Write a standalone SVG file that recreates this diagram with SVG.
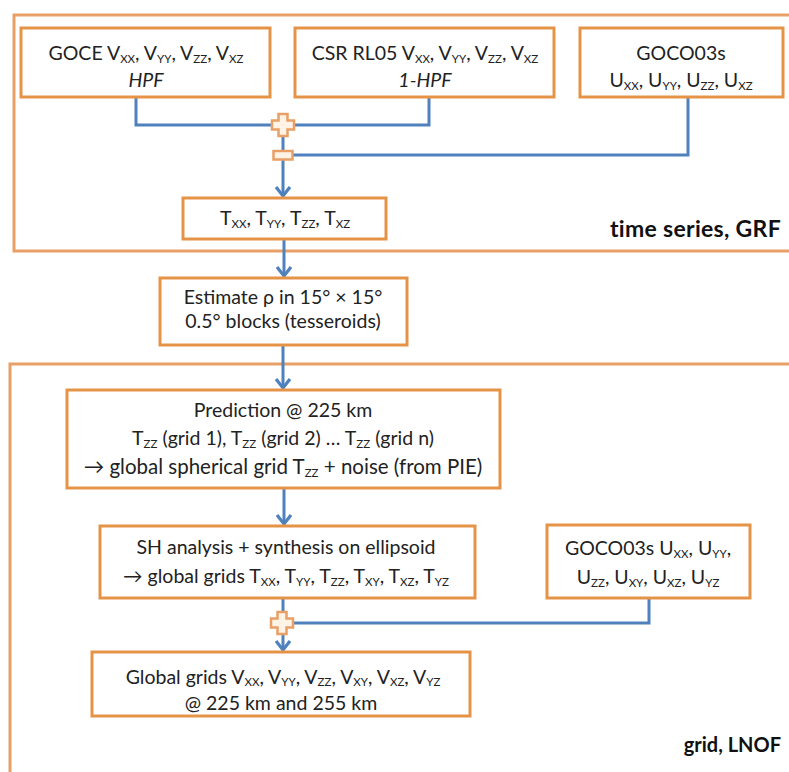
<svg xmlns="http://www.w3.org/2000/svg" width="789" height="772" viewBox="0 0 789 772">
<style>
.frame{fill:none;stroke:#E9A066;stroke-width:3}
.box{fill:#fff;stroke:#E59447;stroke-width:3}
.con{fill:none;stroke:#4F81BD;stroke-width:3}
.op{fill:#FFF3E6;stroke:#E9A066;stroke-width:2.5}
text{font-family:Lato,"Open Sans","Liberation Sans",sans-serif;font-size:19.5px;fill:#222;text-anchor:middle}
.it{font-style:italic}
.lab{font-weight:bold;font-size:20px;text-anchor:end;fill:#111}
.big{font-size:23px;letter-spacing:0.3px}
.s{font-size:11.5px}
</style>
<defs>
<marker id="ah" markerUnits="userSpaceOnUse" markerWidth="18" markerHeight="18" refX="11" refY="9" orient="auto">
<path d="M2,2 L11,9 L2,16" fill="none" stroke="#4F81BD" stroke-width="3.2"/>
</marker>
</defs>
<rect class="frame" x="14" y="15" width="800" height="236"/>
<rect class="frame" x="10" y="364" width="800" height="430"/>
<text class="lab big" x="781" y="237">time series, GRF</text>
<text class="lab" x="781" y="752">grid, LNOF</text>
<g id="connectors">
<path class="con" d="M136,97 V125 H429 V97"/>
<path class="con" d="M283,125 V155 H688 V97"/>
<path class="con" d="M283,155 V196" marker-end="url(#ah)"/>
<path class="con" d="M284,239 V276" marker-end="url(#ah)"/>
<path class="con" d="M283,345 V388" marker-end="url(#ah)"/>
<path class="con" d="M284,488 V524" marker-end="url(#ah)"/>
<path class="con" d="M283,598 V623 H649 V598"/>
<path class="con" d="M283,623 V650" marker-end="url(#ah)"/>
<path id="plus1" class="op" d="M278.5,114 h9 v6.5 h6.5 v9 h-6.5 v6.5 h-9 v-6.5 h-6.5 v-9 h6.5 z"/>
<rect id="minus1" class="op" x="273.5" y="151" width="19" height="8.5"/>
<path id="plus2" class="op" d="M277.5,612 h9 v6.5 h6.5 v9 h-6.5 v6.5 h-9 v-6.5 h-6.5 v-9 h6.5 z"/>
</g>
<g id="goce">
<rect class="box" x="21" y="28" width="249" height="69"/>
<text x="146" y="60">GOCE V<tspan class="s" dy="3">XX</tspan><tspan dy="-3">, V</tspan><tspan class="s" dy="3">YY</tspan><tspan dy="-3">, V</tspan><tspan class="s" dy="3">ZZ</tspan><tspan dy="-3">, V</tspan><tspan class="s" dy="3">XZ</tspan></text>
<text class="it" x="146" y="87">HPF</text>
</g>
<g id="csr">
<rect class="box" x="295" y="28" width="259" height="69"/>
<text x="425" y="60">CSR RL05 V<tspan class="s" dy="3">XX</tspan><tspan dy="-3">, V</tspan><tspan class="s" dy="3">YY</tspan><tspan dy="-3">, V</tspan><tspan class="s" dy="3">ZZ</tspan><tspan dy="-3">, V</tspan><tspan class="s" dy="3">XZ</tspan></text>
<text class="it" x="425" y="87">1-HPF</text>
</g>
<g id="goco1">
<rect class="box" x="580" y="28" width="203" height="69"/>
<text x="681" y="60">GOCO03s</text>
<text x="681" y="87">U<tspan class="s" dy="3">XX</tspan><tspan dy="-3">, U</tspan><tspan class="s" dy="3">YY</tspan><tspan dy="-3">, U</tspan><tspan class="s" dy="3">ZZ</tspan><tspan dy="-3">, U</tspan><tspan class="s" dy="3">XZ</tspan></text>
</g>
<g id="tbox">
<rect class="box" x="183" y="198" width="203" height="41"/>
<text x="285" y="225">T<tspan class="s" dy="3">XX</tspan><tspan dy="-3">, T</tspan><tspan class="s" dy="3">YY</tspan><tspan dy="-3">, T</tspan><tspan class="s" dy="3">ZZ</tspan><tspan dy="-3">, T</tspan><tspan class="s" dy="3">XZ</tspan></text>
</g>
<g id="estimate">
<rect class="box" x="160" y="278" width="247" height="67"/>
<text x="283" y="304">Estimate ρ in 15° × 15°</text>
<text x="283" y="328">0.5° blocks (tesseroids)</text>
</g>
<g id="prediction">
<rect class="box" x="67" y="390" width="433" height="98"/>
<text x="283" y="417">Prediction @ 225 km</text>
<text x="283" y="445">T<tspan class="s" dy="3">ZZ</tspan><tspan dy="-3"> (grid 1), T</tspan><tspan class="s" dy="3">ZZ</tspan><tspan dy="-3"> (grid 2) … T</tspan><tspan class="s" dy="3">ZZ</tspan><tspan dy="-3"> (grid n)</tspan></text>
<text x="283" y="474" style="font-size:20.5px">→ global spherical grid T<tspan class="s" dy="3">ZZ</tspan><tspan dy="-3"> + noise (from PIE)</tspan></text>
</g>
<g id="sh">
<rect class="box" x="100" y="526" width="375" height="72"/>
<text x="286" y="554">SH analysis + synthesis on ellipsoid</text>
<text x="286" y="583">→ global grids T<tspan class="s" dy="3">XX</tspan><tspan dy="-3">, T</tspan><tspan class="s" dy="3">YY</tspan><tspan dy="-3">, T</tspan><tspan class="s" dy="3">ZZ</tspan><tspan dy="-3">, T</tspan><tspan class="s" dy="3">XY</tspan><tspan dy="-3">, T</tspan><tspan class="s" dy="3">XZ</tspan><tspan dy="-3">, T</tspan><tspan class="s" dy="3">YZ</tspan></text>
</g>
<g id="goco2">
<rect class="box" x="547" y="525" width="203" height="73"/>
<text x="648" y="555">GOCO03s U<tspan class="s" dy="3">XX</tspan><tspan dy="-3">, U</tspan><tspan class="s" dy="3">YY</tspan><tspan dy="-3">,</tspan></text>
<text x="648" y="584">U<tspan class="s" dy="3">ZZ</tspan><tspan dy="-3">, U</tspan><tspan class="s" dy="3">XY</tspan><tspan dy="-3">, U</tspan><tspan class="s" dy="3">XZ</tspan><tspan dy="-3">, U</tspan><tspan class="s" dy="3">YZ</tspan></text>
</g>
<g id="global">
<rect class="box" x="92" y="652" width="378" height="64"/>
<text x="283" y="684">Global grids V<tspan class="s" dy="2">XX</tspan><tspan dy="-2">, V</tspan><tspan class="s" dy="2">YY</tspan><tspan dy="-2">, V</tspan><tspan class="s" dy="2">ZZ</tspan><tspan dy="-2">, V</tspan><tspan class="s" dy="2">XY</tspan><tspan dy="-2">, V</tspan><tspan class="s" dy="2">XZ</tspan><tspan dy="-2">, V</tspan><tspan class="s" dy="2">YZ</tspan></text>
<text x="281" y="710">@ 225 km and 255 km</text>
</g>
</svg>
